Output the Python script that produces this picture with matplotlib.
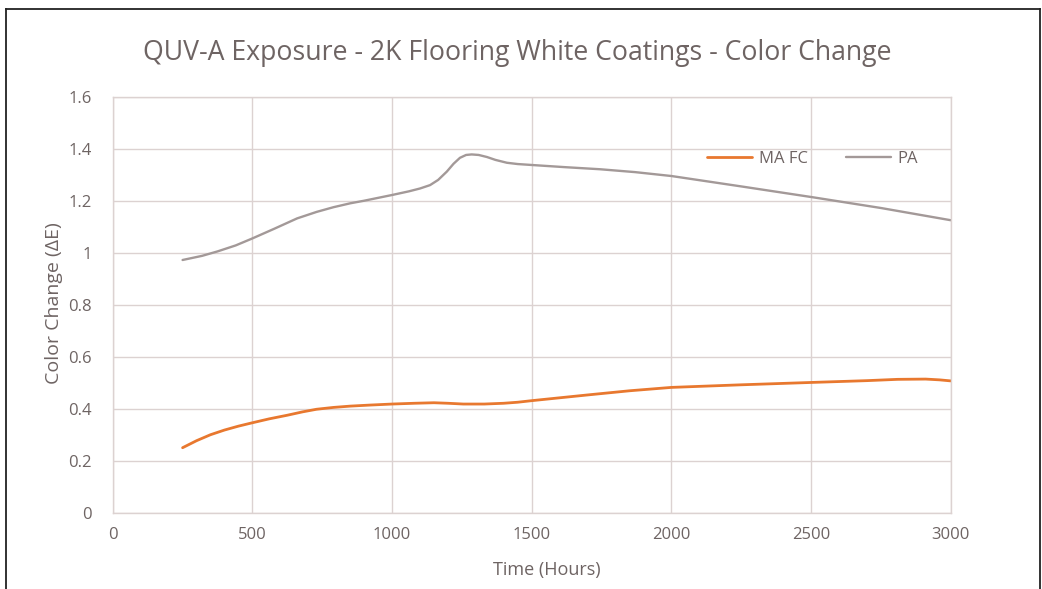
import matplotlib
matplotlib.use("Agg")
import matplotlib.pyplot as plt
from matplotlib.lines import Line2D

# Data
ma_fc_hours = [250, 300, 350, 400, 450, 500, 560, 625, 680, 730, 790, 850, 920, 1000, 1080, 1150, 1200, 1255, 1330, 1400, 1450, 1500, 1600, 1700, 1850, 2000, 2250, 2500, 2700, 2810, 2910, 2960, 3000]
ma_fc_values = [0.25, 0.277, 0.300, 0.318, 0.333, 0.346, 0.361, 0.375, 0.388, 0.398, 0.405, 0.410, 0.414, 0.418, 0.421, 0.423, 0.421, 0.418, 0.418, 0.421, 0.425, 0.431, 0.442, 0.453, 0.469, 0.482, 0.492, 0.501, 0.508, 0.513, 0.514, 0.511, 0.507]

pa_hours = [250, 320, 375, 440, 500, 580, 660, 730, 790, 850, 900, 1000, 1060, 1100, 1136, 1165, 1196, 1220, 1243, 1265, 1285, 1310, 1340, 1370, 1411, 1450, 1506, 1620, 1745, 1870, 2000, 2250, 2508, 2750, 3000]
pa_values = [0.972, 0.988, 1.005, 1.028, 1.055, 1.093, 1.132, 1.157, 1.175, 1.190, 1.200, 1.222, 1.236, 1.247, 1.260, 1.280, 1.312, 1.342, 1.365, 1.376, 1.378, 1.376, 1.368, 1.357, 1.346, 1.341, 1.337, 1.329, 1.321, 1.310, 1.295, 1.255, 1.213, 1.172, 1.125]

x_ticks = [0, 500, 1000, 1500, 2000, 2500, 3000]
y_ticks = [0, 0.2, 0.4, 0.6, 0.8, 1.0, 1.2, 1.4, 1.6]
y_tick_labels = ["0", "0.2", "0.4", "0.6", "0.8", "1", "1.2", "1.4", "1.6"]

title = "QUV-A Exposure - 2K Flooring White Coatings - Color Change"
x_label = "Time (Hours)"
y_label = "Color Change (\u0394E)"

orange = "#E8782F"
gray = "#A39998"
grid_c = "#DCD2D1"
text_c = "#6E6463"

plt.rcParams['font.family'] = ['Open Sans', 'DejaVu Sans']

fig = plt.figure(figsize=(10.42, 5.89), dpi=100)
ax = fig.add_axes([0.1082, 0.1295, 0.8042, 0.7063])

ax.plot(ma_fc_hours, ma_fc_values, color=orange, lw=2.0, solid_capstyle='round',
        solid_joinstyle='round', label="MA FC")
ax.plot(pa_hours, pa_values, color=gray, lw=1.7, solid_capstyle='round',
        solid_joinstyle='round', label="PA")

ax.set_xlim(0, 3000)
ax.set_ylim(0, 1.6)
ax.set_xticks(x_ticks)
ax.set_yticks(y_ticks)
ax.set_yticklabels(y_tick_labels)
ax.grid(True, color=grid_c, lw=1.0)
ax.set_axisbelow(True)
for s in ax.spines.values():
    s.set_color(grid_c)
    s.set_linewidth(1.0)
ax.tick_params(length=0, colors=text_c, labelsize=12)
ax.tick_params(axis='x', pad=10)
ax.tick_params(axis='y', pad=15)

fig.text(0.4966, 0.898, title, ha='center', va='baseline', color=text_c, fontsize=19.2)
fig.text(0.5245, 0.0238, x_label, ha='center', va='baseline', color=text_c, fontsize=13)
fig.text(0.0518, 0.4847, y_label, ha='center', va='center', rotation=90, color=text_c, fontsize=14)

leg = ax.legend(loc='center left', bbox_to_anchor=(0.7016, 0.850), ncol=2, frameon=False,
                fontsize=12, handlelength=2.7, handletextpad=0.375, columnspacing=2.3,
                borderaxespad=0.0, labelcolor=text_c)

# outer border of the picture
fig.add_artist(Line2D([0.0062, 0.0062], [0.0, 0.9847], transform=fig.transFigure, color="#222222", lw=1.3))
fig.add_artist(Line2D([0.0062, 0.9985], [0.9847, 0.9847], transform=fig.transFigure, color="#222222", lw=1.3))
fig.add_artist(Line2D([0.9985, 0.9985], [0.0, 0.9847], transform=fig.transFigure, color="#222222", lw=1.3))

fig.savefig("out.png", dpi=100, facecolor="white")
